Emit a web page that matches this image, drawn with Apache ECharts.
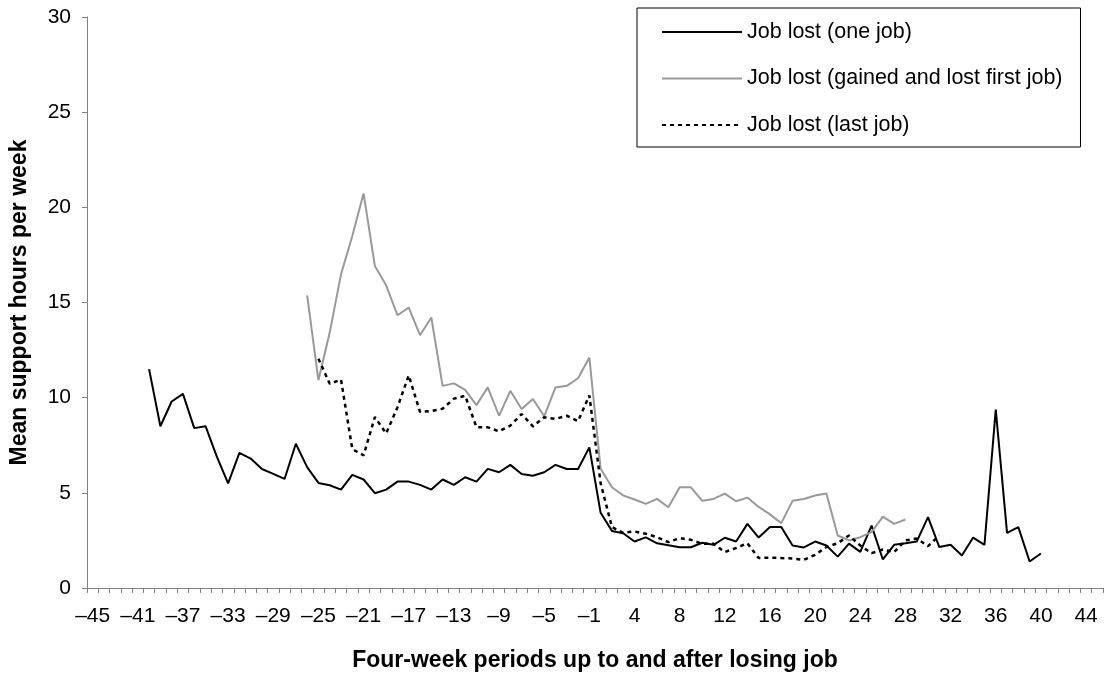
<!DOCTYPE html>
<html>
<head>
<meta charset="utf-8">
<script src="https://cdn.jsdelivr.net/npm/echarts@6/dist/echarts.min.js"></script>
<style>
  html, body { margin: 0; padding: 0; background: #ffffff; }
  #chart { width: 1108px; height: 677px; }
</style>
</head>
<body>
<div id="chart"></div>
<script>
// Four-week periods: -45 … -1, then 1 … 45 (no period 0)
var periods = [
  '–45','–44','–43','–42','–41','–40','–39','–38','–37','–36',
  '–35','–34','–33','–32','–31','–30','–29','–28','–27','–26',
  '–25','–24','–23','–22','–21','–20','–19','–18','–17','–16',
  '–15','–14','–13','–12','–11','–10','–9','–8','–7','–6',
  '–5','–4','–3','–2','–1',
  '1','2','3','4','5','6','7','8','9','10',
  '11','12','13','14','15','16','17','18','19','20',
  '21','22','23','24','25','26','27','28','29','30',
  '31','32','33','34','35','36','37','38','39','40',
  '41','42','43','44','45'
];

var seriesNames = [
  'Job lost (one job)',
  'Job lost (gained and lost first job)',
  'Job lost (last job)'
];

// Job lost (one job)
var oneJob = [
  null, null, null, null, null, 11.5, 8.5, 9.8, 10.2, 8.4,
  8.5, 6.9, 5.5, 7.1, 6.8, 6.25, 6.0, 5.73, 7.58, 6.35,
  5.52, 5.4, 5.17, 5.94, 5.7, 4.98, 5.17, 5.59, 5.59, 5.42,
  5.17, 5.7, 5.42, 5.82, 5.59, 6.26, 6.08, 6.47, 5.99, 5.9,
  6.08, 6.47, 6.25, 6.25, 7.39,
  3.95, 3.0, 2.88, 2.44, 2.66, 2.35, 2.25, 2.14, 2.14, 2.38,
  2.27, 2.64, 2.44, 3.37, 2.65, 3.2, 3.2, 2.23, 2.13, 2.44,
  2.23, 1.65, 2.33, 1.9, 3.28, 1.5, 2.27, 2.35, 2.44, 3.72,
  2.15, 2.27, 1.71, 2.65, 2.27, 9.37, 2.9, 3.2, 1.39, 1.81,
  null, null, null, null, null
];

// Job lost (gained and lost first job)
var firstJob = [
  null, null, null, null, null, null, null, null, null, null,
  null, null, null, null, null, null, null, null, null, 15.38,
  10.92, 13.42, 16.48, 18.49, 20.73, 16.92, 15.9, 14.33, 14.73, 13.28,
  14.21, 10.62, 10.75, 10.41, 9.61, 10.54, 9.05, 10.36, 9.4, 9.93,
  9.02, 10.54, 10.62, 11.02, 12.11,
  6.26, 5.29, 4.86, 4.65, 4.42, 4.68, 4.24, 5.29, 5.29, 4.58,
  4.68, 4.96, 4.56, 4.75, 4.26, 3.87, 3.41, 4.58, 4.68, 4.86,
  4.96, 2.76, 2.5, 2.67, 2.94, 3.75, 3.37, 3.6, null, null,
  null, null, null, null, null, null, null, null, null, null,
  null, null, null, null, null
];

// Job lost (last job)
var lastJob = [
  null, null, null, null, null, null, null, null, null, null,
  null, null, null, null, null, null, null, null, null, null,
  12.05, 10.73, 10.95, 7.3, 6.97, 8.98, 8.12, 9.49, 11.17, 9.25,
  9.3, 9.42, 9.95, 10.1, 8.45, 8.44, 8.23, 8.53, 9.14, 8.49,
  8.97, 8.88, 9.05, 8.77, 10.12,
  5.5, 3.2, 2.9, 2.97, 2.85, 2.67, 2.41, 2.62, 2.53, 2.32,
  2.32, 1.89, 2.1, 2.35, 1.57, 1.6, 1.57, 1.55, 1.48, 1.74,
  2.15, 2.35, 2.76, 2.23, 1.83, 2.02, 1.89, 2.5, 2.6, 2.2,
  2.76, null, null, null, null, null, null, null, null, null,
  null, null, null, null, null
];

var FONT = '"Liberation Sans", Arial, sans-serif';
var AXIS_COLOR = '#808080';

var chart = echarts.init(document.getElementById('chart'), null, { renderer: 'canvas' });
chart.setOption({
  animation: false,
  backgroundColor: '#ffffff',
  textStyle: { fontFamily: FONT },
  grid: { left: 87, right: 5, top: 17, bottom: 88, containLabel: false },
  legend: {
    orient: 'vertical',
    left: 637,
    top: 8,
    padding: [12, 18, 10, 24],
    itemWidth: 80,
    itemHeight: 24,
    itemGap: 22.5,
    borderColor: '#000',
    borderWidth: 1,
    backgroundColor: '#fff',
    itemStyle: { opacity: 0 },
    textStyle: { fontSize: 21.5, color: '#000', fontFamily: FONT, lineHeight: 24 },
    data: seriesNames
  },
  xAxis: {
    type: 'category',
    data: periods,
    boundaryGap: true,
    name: 'Four-week periods up to and after losing job',
    nameLocation: 'middle',
    nameGap: 61,
    nameTextStyle: { fontWeight: 'bold', fontSize: 23, color: '#000', fontFamily: FONT },
    axisLine: { lineStyle: { color: AXIS_COLOR, width: 1 } },
    axisTick: { show: true, interval: 0, length: 5, lineStyle: { color: AXIS_COLOR } },
    axisLabel: { interval: 3, fontSize: 21, color: '#000', margin: 18, fontFamily: FONT },
    splitLine: { show: false }
  },
  yAxis: {
    type: 'value',
    min: 0,
    max: 30,
    interval: 5,
    name: 'Mean support hours per week',
    nameLocation: 'middle',
    nameGap: 56,
    nameTextStyle: { fontWeight: 'bold', fontSize: 23, color: '#000', fontFamily: FONT },
    axisLine: { show: true, lineStyle: { color: AXIS_COLOR, width: 1 } },
    axisTick: { show: true, length: 5, lineStyle: { color: AXIS_COLOR } },
    axisLabel: { fontSize: 21, color: '#000', margin: 16, fontFamily: FONT },
    splitLine: { show: false }
  },
  series: [
    {
      name: seriesNames[0], type: 'line', data: oneJob, symbol: 'none',
      connectNulls: false, z: 2,
      lineStyle: { color: '#000000', width: 2 },
      itemStyle: { color: '#000000' }
    },
    {
      name: seriesNames[1], type: 'line', data: firstJob, symbol: 'none',
      connectNulls: false, z: 2,
      lineStyle: { color: '#999999', width: 2 },
      itemStyle: { color: '#999999' }
    },
    {
      name: seriesNames[2], type: 'line', data: lastJob, symbol: 'none',
      connectNulls: false, z: 3,
      lineStyle: { color: '#000000', width: 2.5, type: [4, 4] },
      itemStyle: { color: '#000000' }
    }
  ]
});
</script>
</body>
</html>
